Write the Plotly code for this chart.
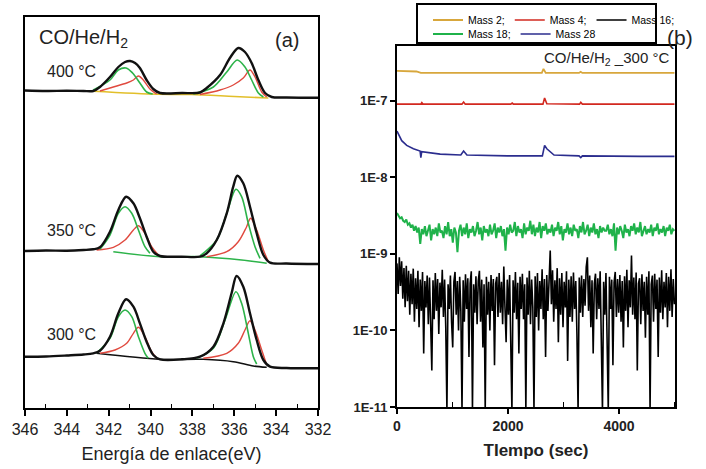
import numpy as np
import plotly.graph_objects as go

W, H = 706, 469

# ---------------- Panel (a): XPS spectra (binding energy eV, intensity a.u.) ----------------
# 400 °C
e400_env = [346.0, 345.0, 344.0, 343.2, 342.74, 342.42, 341.94, 341.54, 341.22, 340.98, 340.74, 340.51, 340.19,
            339.87, 339.55, 338.5, 337.64, 337.32, 336.68, 336.21, 335.81, 335.49, 335.17, 334.85, 334.53, 334.21,
            333.5, 332.0]
i400_env = [317.5, 317.0, 317.3, 317.0, 317.0, 321, 331, 341, 346, 347, 345, 340, 328,
            319, 315, 315, 315.5, 320, 333, 350, 360, 356, 345, 328, 315, 311,
            310.5, 310.3]
e400_g1 = [342.74, 341.94, 341.54, 341.17, 340.86, 340.51, 340.19, 339.9]
i400_g1 = [318, 328, 338, 340, 335, 325, 316, 314]
e400_r1 = [342.42, 341.78, 341.14, 340.82, 340.58, 340.35, 340.03, 339.71]
i400_r1 = [317, 321, 325, 328, 332, 328, 319, 314]
e400_g2 = [337.96, 337.0, 336.36, 335.86, 335.49, 335.17, 334.85, 334.61]
i400_g2 = [314, 321, 336, 348, 341, 328, 315, 311]
e400_r2 = [337.64, 336.68, 336.05, 335.57, 335.25, 335.01, 334.69, 334.45]
i400_r2 = [313.5, 318, 323, 330, 338, 331, 316, 311]
e400_bg = [342.74, 339.63, 338.04, 336.0, 334.37]
i400_bg = [316.7, 313.7, 313.5, 311.5, 310.0]

# 350 °C
e350_env = [346.0, 345.0, 344.0, 343.2, 342.74, 342.42, 341.94, 341.54, 341.17, 340.82, 340.51, 340.19, 339.87,
            339.55, 338.5, 337.64, 337.32, 336.84, 336.36, 336.05, 335.86, 335.57, 335.25, 334.93, 334.61, 334.29,
            333.5, 332.0]
i350_env = [157.0, 157.5, 157.3, 158.0, 158.7, 160.7, 176.3, 198, 211.3, 204.7, 189.7, 171.3, 156.3,
            152, 151.3, 151.3, 154.7, 168, 194.7, 221.3, 232.3, 224.7, 201.3, 174.7, 153, 145.3,
            144.5, 144.0]
e350_bg = [341.78, 339.55, 337.64, 335.65, 334.45]
i350_bg = [156.3, 151.3, 151.3, 148, 144.7]
e350_g1 = [342.42, 341.94, 341.54, 341.22, 340.90, 340.58, 340.27, 340.03]
i350_g1 = [158.7, 173, 194.7, 201.3, 194.7, 178, 161.3, 154.7]
e350_r1 = [342.58, 341.78, 341.22, 340.82, 340.58, 340.27, 339.95, 339.63]
i350_r1 = [158, 160.7, 168, 178, 182.3, 174.7, 161.3, 153]
e350_g2 = [337.64, 336.84, 336.36, 335.92, 335.65, 335.33, 335.01, 334.77]
i350_g2 = [152, 168, 194.7, 218.7, 211.3, 184.7, 161.3, 149.7]
e350_r2 = [337.32, 336.36, 335.81, 335.41, 335.22, 334.93, 334.61, 334.37]
i350_r2 = [151.3, 156.3, 166.3, 181.3, 189.7, 178, 158, 146.3]

# 300 °C
e300_env = [346.0, 345.0, 344.0, 343.2, 342.74, 342.42, 341.94, 341.54, 341.17, 340.82, 340.51, 340.19, 339.87,
            339.55, 338.5, 337.64, 337.0, 336.52, 336.13, 335.89, 335.57, 335.25, 334.93, 334.61, 334.29,
            333.5, 332.0]
i300_env = [51.3, 51.5, 52.5, 53.5, 54.7, 57.3, 71.3, 94.7, 108.7, 101.3, 84.7, 66.3, 53,
            48.7, 48.7, 51.3, 61.3, 84.7, 114.7, 132, 121.3, 94.7, 68, 48, 41.3,
            40.0, 39.7]
e300_bg = [342.58, 339.55, 337.48, 336.05, 335.09, 334.45]
i300_bg = [54.7, 48.7, 48.7, 46.3, 42, 40.7]
e300_g1 = [342.58, 341.94, 341.54, 341.22, 340.90, 340.58, 340.27, 340.11]
i300_g1 = [55, 69.7, 91.3, 98, 91.3, 71.3, 54.7, 49.7]
e300_r1 = [342.42, 341.70, 341.14, 340.82, 340.58, 340.27, 339.95, 339.71]
i300_r1 = [54.7, 58, 64.7, 74.7, 80.7, 71.3, 56.3, 49.7]
e300_g2 = [337.80, 337.0, 336.44, 335.92, 335.65, 335.33, 335.09, 334.93]
i300_g2 = [49.7, 59.7, 88, 116.3, 104.7, 74.7, 51.3, 44]
e300_r2 = [337.48, 336.36, 335.81, 335.49, 335.25, 335.01, 334.69, 334.45]
i300_r2 = [49.7, 54.7, 64.7, 78, 87.3, 78, 58, 43]

energy_ticks = [346, 344, 342, 340, 338, 336, 334, 332]
energy_minor = [345, 343, 341, 339, 337, 335, 333]

# ---------------- Panel (b): mass spectrometer signals vs time ----------------
t_m2 = [0, 350, 430, 470, 2610, 2640, 2680, 3280, 3310, 3340, 5000]
v_m2 = [2.45e-7, 2.4e-7, 2.3e-7, 2.3e-7, 2.3e-7, 2.6e-7, 2.3e-7, 2.3e-7, 2.38e-7, 2.3e-7, 2.3e-7]

t_m4 = [0, 430, 447, 470, 1170, 1200, 1230, 2050, 2076, 2100, 2630, 2660, 2700, 3290, 3312, 3340, 5000]
v_m4 = [9.0e-8, 9.0e-8, 9.4e-8, 9.0e-8, 9.0e-8, 9.6e-8, 9.0e-8, 9.0e-8, 9.3e-8, 9.0e-8, 9.0e-8,
        10.8e-8, 9.1e-8, 9.0e-8, 9.5e-8, 9.0e-8, 9.0e-8]

t_m28 = [0, 40, 85, 175, 296, 416, 430, 445, 537, 778, 1150, 1200, 1260, 1680, 1990, 2620, 2660, 2700,
         2830, 3280, 3312, 3340, 3790, 4400, 5000]
v_m28 = [4.0e-8, 3.4e-8, 3.0e-8, 2.6e-8, 2.35e-8, 2.2e-8, 1.8e-8, 2.15e-8, 2.1e-8, 2.0e-8, 1.95e-8, 2.2e-8,
         1.95e-8, 1.92e-8, 1.9e-8, 1.9e-8, 2.6e-8, 2.35e-8, 1.95e-8, 1.9e-8, 1.8e-8, 1.9e-8, 1.88e-8,
         1.87e-8, 1.87e-8]

# Mass 18 signal, in units of 1E-9 (evenly sampled over 0-5000 s)
v_m18_e9 = [3.4, 3.1, 2.9, 3.0, 2.7, 2.6, 2.8, 2.4, 2.5, 2.2,
            2.4, 2.0, 2.3, 1.9, 2.2, 1.35, 2.1, 1.8, 2.3, 1.7,
            2.0, 2.4, 1.5, 2.1, 1.8, 2.2, 1.7, 2.5, 1.9, 2.0,
            1.6, 2.3, 1.8, 2.6, 1.7, 2.1, 1.4, 2.2, 1.9, 1.05,
            2.0, 2.4, 1.7, 2.2, 1.8, 2.5, 1.6, 2.1, 1.9, 2.3,
            1.7, 2.0, 2.6, 1.8, 2.2, 1.5, 2.3, 1.9, 2.1, 1.7,
            2.4, 1.8, 2.0, 2.5, 1.6, 2.2, 1.9, 2.3, 1.7, 2.1,
            1.1, 2.2, 1.8, 2.4, 1.9, 2.0, 2.6, 1.7, 2.3, 1.9,
            2.1, 1.6, 2.5, 1.8, 2.2, 2.0, 2.7, 1.8, 2.4, 1.7,
            2.2, 1.9, 2.6, 1.6, 2.3, 2.0, 2.5, 1.8, 2.1, 1.9,
            2.4, 1.7, 2.2, 2.0, 2.6, 1.8, 2.3, 1.5, 2.1, 1.9,
            2.5, 1.8, 2.2, 1.7, 2.4, 2.0, 2.1, 1.6, 2.3, 1.9,
            2.6, 1.8, 2.0, 2.4, 1.7, 2.2, 1.9, 2.5, 1.8, 2.1,
            1.6, 2.3, 1.9, 2.2, 2.0, 2.0, 2.4, 1.8, 2.1, 1.7,
            2.5, 1.1, 2.2, 1.8, 2.3, 2.0, 1.6, 2.4, 1.9, 2.1,
            1.7, 2.3, 2.0, 2.5, 1.8, 2.2, 1.9, 2.6, 1.7, 2.0,
            2.3, 1.8, 2.1, 1.9, 2.4, 1.7, 2.2, 2.0, 2.5, 1.8,
            2.1, 1.9, 2.3, 1.7, 2.2, 2.0, 2.4, 1.8, 2.1, 2.0]
# Mass 16 signal, in units of 1E-10 (evenly sampled over 0-5000 s)
v_m16_e10 = [7.5, 3.0, 9.0, 3.8, 8.0, 2.6, 6.5, 2.0, 7.0, 2.4,
             6.0, 1.6, 5.5, 2.2, 6.4, 1.3, 4.8, 1.9, 6.0, 1.1,
             4.6, 1.8, 5.8, 0.5, 4.4, 2.0, 5.2, 1.2, 4.9, 1.7,
             0.3, 4.5, 1.4, 5.6, 1.8, 4.7, 0.9, 4.2, 2.0, 6.2,
             1.5, 4.6, 1.1, 0.09, 4.0, 1.9, 5.2, 1.3, 0.6, 4.3,
             5.8, 1.6, 4.4, 1.0, 5.0, 1.8, 0.09, 4.5, 1.3, 5.4,
             1.9, 4.8, 0.45, 4.1, 5.9, 0.09, 4.0, 1.7, 5.1, 1.2,
             4.4, 6.0, 1.3, 4.6, 0.6, 4.0, 0.09, 5.0, 1.6, 4.3,
             1.0, 5.3, 1.8, 4.7, 0.35, 4.1, 5.0, 1.5, 5.6, 1.7,
             4.3, 1.2, 6.8, 2.0, 0.7, 4.6, 1.6, 5.3, 1.1, 0.09,
             4.5, 1.7, 5.8, 1.4, 4.2, 0.5, 5.0, 1.9, 5.5, 1.4,
             4.0, 0.09, 4.9, 1.6, 6.0, 1.2, 4.6, 2.0, 0.09, 5.1,
             1.5, 5.6, 1.0, 4.4, 1.9, 6.3, 1.4, 4.7, 0.45, 5.3,
             1.8, 4.9, 11.0, 2.2, 6.1, 1.3, 4.5, 1.9, 6.5, 0.7,
             4.8, 1.6, 5.6, 1.1, 4.3, 2.0, 5.9, 0.4, 4.6, 1.5,
             5.1, 1.3, 5.7, 1.9, 4.4, 0.9, 0.09, 4.9, 1.7, 5.2,
             1.5, 4.7, 2.1, 6.7, 9.0, 1.8, 5.2, 1.1, 4.5, 0.5,
             4.1, 5.5, 1.4, 4.8, 1.9, 5.9, 1.2, 0.09, 4.3, 1.6,
             5.6, 1.0, 0.09, 5.0, 1.9, 4.6, 0.35, 4.2, 5.8, 1.5,
             4.7, 1.7, 5.3, 1.3, 4.4, 0.6, 5.1, 1.8, 6.2, 1.1,
             4.5, 2.0, 9.5, 1.6, 4.9, 1.4, 5.7, 0.3, 4.1, 4.8,
             1.2, 5.4, 1.8, 4.3, 0.8, 5.0, 1.6, 5.9, 0.09, 4.0,
             5.2, 1.3, 5.5, 1.9, 4.6, 0.45, 4.9, 1.7, 6.1, 1.4,
             4.3, 2.0, 5.6, 1.1, 5.0, 1.8, 6.3, 1.5, 4.7, 2.2]
t_m18 = np.linspace(0, 5000, len(v_m18_e9))
t_m16 = np.linspace(0, 5000, len(v_m16_e10))
v_m18 = [v * 1e-9 for v in v_m18_e9]
v_m16 = [v * 1e-10 for v in v_m16_e10]

log_ticks = [1e-11, 1e-10, 1e-9, 1e-8, 1e-7]
log_labels = ["1E-11", "1E-10", "1E-9", "1E-8", "1E-7"]
time_ticks = [0, 2000, 4000]

# ---------------- colours ----------------
C_BLACK = "#111111"
C_GREEN = "#2db34a"
C_RED = "#e04a3f"
C_YEL = "#e2bf2a"
C_GOLD = "#d8a73c"
C_MRED = "#d2281f"
C_NAVY = "#2b2d8e"
C_MGREEN = "#1fb24a"

fig = go.Figure()


def xps(e, i, color, width):
    fig.add_trace(go.Scatter(x=e, y=i, mode="lines", xaxis="x", yaxis="y", showlegend=False,
                             line=dict(color=color, width=width, shape="spline", smoothing=0.9),
                             hoverinfo="skip"))


# 400 °C
xps(e400_bg, i400_bg, C_YEL, 1.6)
xps(e400_r1, i400_r1, C_RED, 1.4)
xps(e400_r2, i400_r2, C_RED, 1.4)
xps(e400_g1, i400_g1, C_GREEN, 1.6)
xps(e400_g2, i400_g2, C_GREEN, 1.6)
xps(e400_env, i400_env, C_BLACK, 2.4)
# 350 °C
xps(e350_bg, i350_bg, C_GREEN, 1.6)
xps(e350_r1, i350_r1, C_RED, 1.4)
xps(e350_r2, i350_r2, C_RED, 1.4)
xps(e350_g1, i350_g1, C_GREEN, 1.6)
xps(e350_g2, i350_g2, C_GREEN, 1.6)
xps(e350_env, i350_env, C_BLACK, 2.4)
# 300 °C
xps(e300_bg, i300_bg, C_BLACK, 1.6)
xps(e300_r1, i300_r1, C_RED, 1.4)
xps(e300_r2, i300_r2, C_RED, 1.4)
xps(e300_g1, i300_g1, C_GREEN, 1.6)
xps(e300_g2, i300_g2, C_GREEN, 1.6)
xps(e300_env, i300_env, C_BLACK, 2.4)

# Panel (b)
fig.add_trace(go.Scatter(x=t_m16, y=v_m16, mode="lines", name="Mass 16;", xaxis="x2", yaxis="y2",
                         line=dict(color="#000000", width=1.6), legend="legend", legendrank=3))
fig.add_trace(go.Scatter(x=t_m18, y=v_m18, mode="lines", name="Mass 18;", xaxis="x2", yaxis="y2",
                         line=dict(color=C_MGREEN, width=2.0), legend="legend2", legendrank=1))
fig.add_trace(go.Scatter(x=t_m28, y=v_m28, mode="lines", name="Mass 28", xaxis="x2", yaxis="y2",
                         line=dict(color=C_NAVY, width=1.6), legend="legend2", legendrank=2))
fig.add_trace(go.Scatter(x=t_m4, y=v_m4, mode="lines", name="Mass 4;", xaxis="x2", yaxis="y2",
                         line=dict(color=C_MRED, width=1.6), legend="legend", legendrank=2))
fig.add_trace(go.Scatter(x=t_m2, y=v_m2, mode="lines", name="Mass 2;", xaxis="x2", yaxis="y2",
                         line=dict(color=C_GOLD, width=1.8), legend="legend", legendrank=1))

FONT = "Arial"
NARROW = "Liberation Sans Narrow, Arial Narrow, Arial"
axis_common = dict(showline=True, linecolor="black", linewidth=2, mirror=True, showgrid=False,
                   zeroline=False, automargin=False)

legend_common = dict(orientation="h", xanchor="left", yanchor="middle", bgcolor="rgba(0,0,0,0)",
                     borderwidth=0, font=dict(family=NARROW, size=10.5, color="black"),
                     itemwidth=30, traceorder="normal")

fig.update_layout(
    width=W, height=H,
    margin=dict(l=0, r=0, t=0, b=0, pad=0, autoexpand=False),
    paper_bgcolor="white", plot_bgcolor="white",
    font=dict(family=FONT, color="black"),
    xaxis=dict(domain=[25 / W, 318 / W], range=[346, 332], anchor="y",
               tickmode="array", tickvals=energy_ticks, ticktext=[str(v) for v in energy_ticks],
               ticks="outside", ticklen=6, tickwidth=1.5, tickcolor="black",
               minor=dict(tickmode="array", tickvals=energy_minor, ticks="inside", ticklen=4,
                          tickwidth=1.2, tickcolor="black"),
               tickfont=dict(size=16, color="#222"),
               title=dict(text="Energía de enlace(eV)", font=dict(size=18, color="#222"), standoff=10),
               **axis_common),
    yaxis=dict(domain=[61 / H, 452 / H], range=[0, 391], anchor="x", showticklabels=False, ticks="",
               **axis_common),
    xaxis2=dict(domain=[397 / W, 675 / W], range=[0, 5010], anchor="y2",
                tickmode="array", tickvals=time_ticks, ticks="outside", ticklen=5, tickwidth=1.5,
                tickcolor="black",
                minor=dict(tickmode="array", tickvals=[1000, 3000, 5000], ticks="inside", ticklen=5,
                           tickwidth=1.2, tickcolor="black"),
                tickfont=dict(size=14, color="#222", weight="bold"),
                title=dict(text="TIempo (sec)", font=dict(size=17, color="#222", weight="bold"), standoff=11),
                **axis_common),
    yaxis2=dict(domain=[62 / H, 423 / H], type="log", range=[-11, -6.287], anchor="x2",
                tickmode="array", tickvals=log_ticks, ticktext=log_labels,
                ticks="outside", ticklen=5, tickwidth=1.5, tickcolor="black",
                tickfont=dict(size=13, color="#222", weight="bold"),
                **axis_common),
    legend=dict(x=428 / W, y=1 - 20 / H, **legend_common),
    legend2=dict(x=428 / W, y=1 - 34 / H, **legend_common),
    shapes=[dict(type="rect", xref="paper", yref="paper", x0=417 / W, x1=656 / W,
                 y0=1 - 43 / H, y1=1 - 4 / H, line=dict(color="black", width=2))],
)

annots = [
    dict(text="CO/He/H<sub>2</sub>", x=37 / W, y=1 - 39 / H, xanchor="left", size=20),
    dict(text="(a)", x=273 / W, y=1 - 40 / H, xanchor="left", size=20),
    dict(text="400 °C", x=45 / W, y=1 - 71.5 / H, xanchor="left", size=16),
    dict(text="350 °C", x=45 / W, y=1 - 230.5 / H, xanchor="left", size=16),
    dict(text="300 °C", x=45 / W, y=1 - 334.5 / H, xanchor="left", size=16),
    dict(text="(b)", x=680 / W, y=1 - 37.5 / H, xanchor="center", size=21),
    dict(text="CO/He/H<sub>2</sub> _300 °C", x=671 / W, y=1 - 58 / H, xanchor="right", size=15),
]
for a in annots:
    fig.add_annotation(text=a["text"], x=a["x"], y=a["y"], xref="paper", yref="paper",
                       xanchor=a["xanchor"], yanchor="middle", showarrow=False,
                       font=dict(family=FONT, size=a["size"], color="#222"))

fig.write_html("out.html")
